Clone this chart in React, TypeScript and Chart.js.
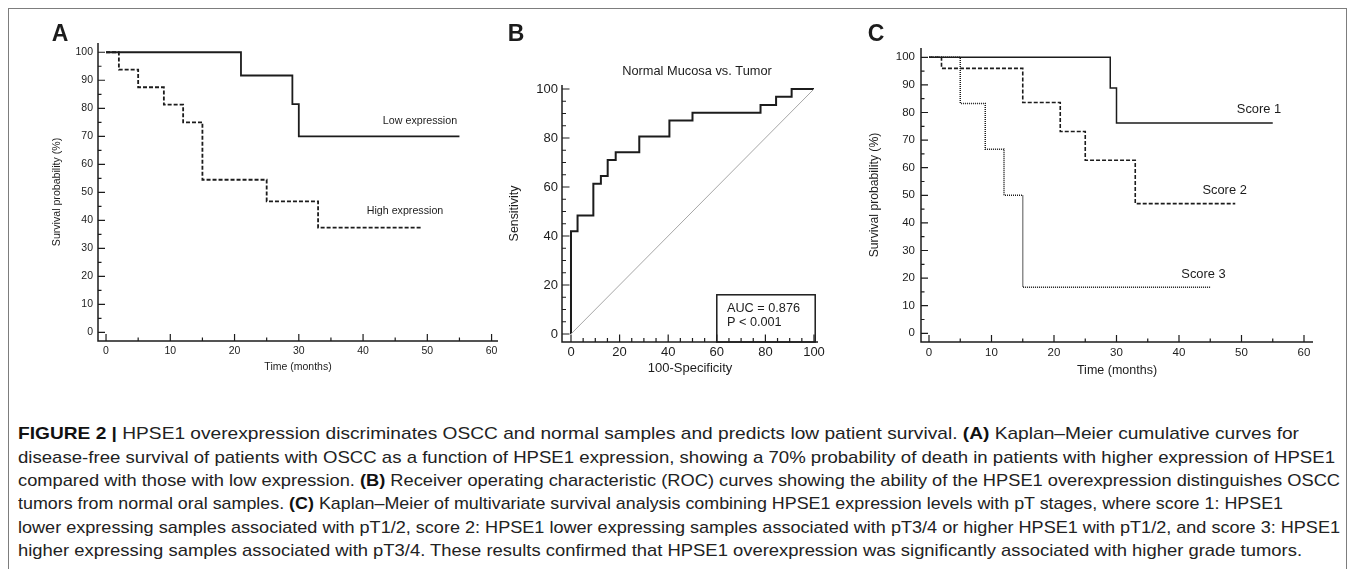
import React, { useEffect, useLayoutEffect, useRef } from "react";
import { Chart, registerables } from "chart.js";

Chart.register(...registerables);

const FONT = "'Liberation Sans', Arial, Helvetica, sans-serif";
const INK = "#1c1c1c";

// ---------------- Data ----------------
const survivalTimeTicks = [0, 10, 20, 30, 40, 50, 60];
const survivalPctTicks = [0, 10, 20, 30, 40, 50, 60, 70, 80, 90, 100];
const rocTicks = [0, 20, 40, 60, 80, 100];

const panelLetters = ["A", "B", "C"];

const survivalXTitle = "Time (months)";
const survivalYTitle = "Survival probability (%)";

const lowExpressionLabel = "Low expression";
const lowExpressionMonths = [0, 21, 29, 30, 55];
const lowExpressionSurvival = [100, 91.7, 81.5, 70, 70];

const highExpressionLabel = "High expression";
const highExpressionMonths = [0, 2, 5, 9, 12, 15, 25, 33, 49];
const highExpressionSurvival = [100, 93.8, 87.5, 81.3, 75, 54.5, 46.8, 37.4, 37.4];

const rocTitle = "Normal Mucosa vs. Tumor";
const rocXTitle = "100-Specificity";
const rocYTitle = "Sensitivity";
const rocSpecificity = [0, 2.7, 9.2, 12.3, 15.1, 18.4, 28.1, 40.5, 50, 78, 84.4, 90.8, 100];
const rocSensitivity = [0, 41.9, 48.4, 61.3, 64.5, 71, 74.2, 80.6, 87.1, 90.3, 93.5, 96.8, 100];
const referenceDiagonal = [0, 100];
const rocStats = ["AUC = 0.876", "P < 0.001"];
const rocStatsBoxX = [60, 100.5];
const rocStatsBoxTop = 16;

const scoreLabels = ["Score 1", "Score 2", "Score 3"];
const score1Months = [0, 29, 30, 55];
const score1Survival = [100, 88.9, 76.2, 76.2];
const score2Months = [0, 2, 15, 21, 25, 33, 49];
const score2Survival = [100, 96, 83.6, 73.1, 62.7, 47, 47];
const score3Months = [0, 5, 9, 12, 15, 45];
const score3Survival = [100, 83.3, 66.7, 50, 16.7, 16.7];

type Seg = [string, boolean];
const captionLines: Seg[][] = [
  [["FIGURE 2 | ", true], ["HPSE1 overexpression discriminates OSCC and normal samples and predicts low patient survival. ", false], ["(A)", true], [" Kaplan\u2013Meier cumulative curves for", false]],
  [["disease-free survival of patients with OSCC as a function of HPSE1 expression, showing a 70% probability of death in patients with higher expression of HPSE1", false]],
  [["compared with those with low expression. ", false], ["(B)", true], [" Receiver operating characteristic (ROC) curves showing the ability of the HPSE1 overexpression distinguishes OSCC", false]],
  [["tumors from normal oral samples. ", false], ["(C)", true], [" Kaplan\u2013Meier of multivariate survival analysis combining HPSE1 expression levels with pT stages, where score 1: HPSE1", false]],
  [["lower expressing samples associated with pT1/2, score 2: HPSE1 lower expressing samples associated with pT3/4 or higher HPSE1 with pT1/2, and score 3: HPSE1", false]],
  [["higher expressing samples associated with pT3/4. These results confirmed that HPSE1 overexpression was significantly associated with higher grade tumors.", false]],
];

// ---------------- Styling / layout helpers ----------------
const captionLeft = 18;
const captionCenters = [433, 457, 480, 503, 527, 550];
const captionRights = [1299, 1335, 1340, 1283, 1340, 1302];

type Txt = { text: string; x: number; y: number; size: number; bold?: boolean; align?: CanvasTextAlign };
type Deco = {
  offX: number;
  offY: number;
  xMajor: number[];
  yMajor: number[];
  minorStep: number;
  majorLen: number;
  minorLen: number;
  texts: Txt[];
  box?: { x0: number; x1: number; top: number };
};

function pts(xs: number[], ys: number[]) {
  return xs.map((x, i) => ({ x, y: ys[i] }));
}

function minorsOf(major: number[], step: number) {
  const out: number[] = [];
  for (let i = 0; i < major.length - 1; i++) {
    for (let v = major[i] + step; v < major[i + 1] - 1e-9; v += step) out.push(v);
  }
  return out;
}

function decoPlugin(d: Deco) {
  return {
    id: "deco",
    afterDraw(chart: any) {
      const { ctx, chartArea: a } = chart;
      const xs = chart.scales.x;
      const ys = chart.scales.y;
      ctx.save();
      ctx.strokeStyle = INK;
      ctx.lineWidth = 1.5;
      ctx.beginPath();
      ctx.moveTo(a.left, a.top);
      ctx.lineTo(a.left, a.bottom);
      ctx.lineTo(a.right, a.bottom);
      ctx.stroke();
      ctx.lineWidth = 1.2;
      ctx.beginPath();
      for (const v of d.yMajor) {
        const p = ys.getPixelForValue(v);
        ctx.moveTo(a.left, p);
        ctx.lineTo(a.left + d.majorLen, p);
      }
      for (const v of minorsOf(d.yMajor, d.minorStep)) {
        const p = ys.getPixelForValue(v);
        ctx.moveTo(a.left, p);
        ctx.lineTo(a.left + d.minorLen, p);
      }
      for (const v of d.xMajor) {
        const p = xs.getPixelForValue(v);
        ctx.moveTo(p, a.bottom);
        ctx.lineTo(p, a.bottom - d.majorLen);
      }
      for (const v of minorsOf(d.xMajor, d.minorStep)) {
        const p = xs.getPixelForValue(v);
        ctx.moveTo(p, a.bottom);
        ctx.lineTo(p, a.bottom - d.minorLen);
      }
      ctx.stroke();
      if (d.box) {
        const x0 = xs.getPixelForValue(d.box.x0);
        const x1 = xs.getPixelForValue(d.box.x1);
        const y0 = ys.getPixelForValue(d.box.top);
        ctx.lineWidth = 1.5;
        ctx.strokeRect(x0, y0, x1 - x0, a.bottom - y0);
      }
      ctx.fillStyle = INK;
      ctx.textBaseline = "middle";
      for (const t of d.texts) {
        ctx.font = `${t.bold ? "bold " : ""}${t.size}px ${FONT}`;
        ctx.textAlign = t.align || "center";
        ctx.fillText(t.text, t.x - d.offX, t.y - d.offY);
      }
      ctx.restore();
    },
  };
}

function axis(o: {
  min: number;
  max: number;
  ticks: number[];
  size: number;
  pad: number;
  extent: number;
  horizontal: boolean;
  title: string;
  titleSize: number;
  titlePad: number;
}) {
  return {
    type: "linear",
    min: o.min,
    max: o.max,
    grid: { display: false, drawTicks: false },
    border: { display: false },
    ticks: {
      autoSkip: false,
      maxRotation: 0,
      minRotation: 0,
      padding: o.pad,
      color: INK,
      font: { family: FONT, size: o.size },
    },
    afterBuildTicks: (s: any) => {
      s.ticks = o.ticks.map((value) => ({ value }));
    },
    afterFit: (s: any) => {
      if (o.horizontal) s.height = o.extent;
      else s.width = o.extent;
    },
    title: {
      display: true,
      text: o.title,
      color: INK,
      font: { family: FONT, size: o.titleSize },
      padding: o.horizontal ? { top: 0, bottom: o.titlePad } : { top: o.titlePad, bottom: 0 },
    },
  };
}

const baseOptions = {
  responsive: false,
  maintainAspectRatio: false,
  animation: false,
  devicePixelRatio: 1,
  events: [],
};

function kmChartA(left: number, top: number) {
  return {
    type: "line",
    data: {
      datasets: [
        {
          label: lowExpressionLabel,
          data: pts(lowExpressionMonths, lowExpressionSurvival),
          stepped: "before",
          borderColor: INK,
          borderWidth: 1.8,
          pointRadius: 0,
          fill: false,
        },
        {
          label: highExpressionLabel,
          data: pts(highExpressionMonths, highExpressionSurvival),
          stepped: "before",
          borderColor: INK,
          borderWidth: 1.8,
          borderDash: [4, 2],
          pointRadius: 0,
          fill: false,
        },
      ],
    },
    options: {
      ...baseOptions,
      layout: { padding: { left: 0, top: 29, right: 16, bottom: 0 } },
      plugins: { legend: { display: false }, tooltip: { enabled: false }, title: { display: false } },
      scales: {
        x: axis({ min: -1.25, max: 61, ticks: survivalTimeTicks, size: 10.5, pad: 3.4, extent: 63, horizontal: true, title: survivalXTitle, titleSize: 10.5, titlePad: 31 }),
        y: axis({ min: -3.05, max: 103.3, ticks: survivalPctTicks, size: 10.5, pad: 5, extent: 84, horizontal: false, title: survivalYTitle, titleSize: 10.6, titlePad: 37 }),
      },
    },
    plugins: [
      decoPlugin({
        offX: left,
        offY: top,
        xMajor: survivalTimeTicks,
        yMajor: survivalPctTicks,
        minorStep: 5,
        majorLen: 7,
        minorLen: 3.5,
        texts: [
          { text: panelLetters[0], x: 60, y: 35, size: 23, bold: true },
          { text: lowExpressionLabel, x: 420, y: 120.7, size: 10.7 },
          { text: highExpressionLabel, x: 405, y: 211, size: 10.7 },
        ],
      }),
    ],
  };
}

function rocChartB(left: number, top: number) {
  return {
    type: "line",
    data: {
      datasets: [
        {
          label: "Reference",
          data: pts(referenceDiagonal, referenceDiagonal),
          borderColor: "#a6a6a6",
          borderWidth: 1,
          pointRadius: 0,
          fill: false,
        },
        {
          label: rocTitle,
          data: pts(rocSpecificity, rocSensitivity),
          stepped: "after",
          borderColor: INK,
          borderWidth: 2,
          pointRadius: 0,
          fill: false,
        },
      ],
    },
    options: {
      ...baseOptions,
      layout: { padding: { left: 0, top: 71, right: 52, bottom: 0 } },
      plugins: { legend: { display: false }, tooltip: { enabled: false }, title: { display: false } },
      scales: {
        x: axis({ min: -3.7, max: 101.65, ticks: rocTicks, size: 13, pad: 3, extent: 62, horizontal: true, title: rocXTitle, titleSize: 13, titlePad: 28 }),
        y: axis({ min: -3.27, max: 101.63, ticks: rocTicks, size: 13, pad: 4, extent: 92, horizontal: false, title: rocYTitle, titleSize: 12.4, titlePad: 37.6 }),
      },
    },
    plugins: [
      decoPlugin({
        offX: left,
        offY: top,
        xMajor: rocTicks,
        yMajor: rocTicks,
        minorStep: 5,
        majorLen: 7.5,
        minorLen: 4,
        box: { x0: rocStatsBoxX[0], x1: rocStatsBoxX[1], top: rocStatsBoxTop },
        texts: [
          { text: panelLetters[1], x: 516, y: 35, size: 23, bold: true },
          { text: rocTitle, x: 697, y: 71, size: 12.8 },
          { text: rocStats[0], x: 727, y: 308, size: 12.7, align: "left" },
          { text: rocStats[1], x: 727, y: 322, size: 12.7, align: "left" },
        ],
      }),
    ],
  };
}

function kmChartC(left: number, top: number) {
  return {
    type: "line",
    data: {
      datasets: [
        {
          label: scoreLabels[0],
          data: pts(score1Months, score1Survival),
          stepped: "before",
          borderColor: INK,
          borderWidth: 1.5,
          pointRadius: 0,
          fill: false,
        },
        {
          label: scoreLabels[1],
          data: pts(score2Months, score2Survival),
          stepped: "before",
          borderColor: INK,
          borderWidth: 1.6,
          borderDash: [4, 2],
          pointRadius: 0,
          fill: false,
        },
        {
          label: scoreLabels[2],
          data: pts(score3Months, score3Survival),
          stepped: "before",
          borderColor: INK,
          borderWidth: 1.5,
          borderDash: [1, 1],
          pointRadius: 0,
          fill: false,
        },
      ],
    },
    options: {
      ...baseOptions,
      layout: { padding: { left: 0, top: 34, right: 27, bottom: 0 } },
      plugins: { legend: { display: false }, tooltip: { enabled: false }, title: { display: false } },
      scales: {
        x: axis({ min: -1.28, max: 61.44, ticks: survivalTimeTicks, size: 11.5, pad: 4.4, extent: 62, horizontal: true, title: survivalXTitle, titleSize: 12.5, titlePad: 25.5 }),
        y: axis({ min: -3.15, max: 103.37, ticks: survivalPctTicks, size: 11.5, pad: 6, extent: 81, horizontal: false, title: survivalYTitle, titleSize: 12.2, titlePad: 27.3 }),
      },
    },
    plugins: [
      decoPlugin({
        offX: left,
        offY: top,
        xMajor: survivalTimeTicks,
        yMajor: survivalPctTicks,
        minorStep: 5,
        majorLen: 7,
        minorLen: 3.5,
        texts: [
          { text: panelLetters[2], x: 876, y: 35, size: 23, bold: true },
          { text: scoreLabels[0], x: 1259, y: 109, size: 12.9 },
          { text: scoreLabels[1], x: 1224.6, y: 190, size: 12.9 },
          { text: scoreLabels[2], x: 1203.5, y: 274, size: 12.9 },
        ],
      }),
    ],
  };
}

function ChartCanvas(props: { left: number; top: number; width: number; height: number; build: (l: number, t: number) => any }) {
  const ref = useRef<HTMLCanvasElement>(null);
  useEffect(() => {
    const chart = new Chart(ref.current as HTMLCanvasElement, props.build(props.left, props.top) as any);
    return () => chart.destroy();
  }, []);
  return (
    <canvas
      ref={ref}
      width={props.width}
      height={props.height}
      style={{ position: "absolute", left: props.left, top: props.top, width: props.width, height: props.height }}
    />
  );
}

function Caption() {
  const refs = useRef<(HTMLSpanElement | null)[]>([]);
  useLayoutEffect(() => {
    refs.current.forEach((el, i) => {
      if (!el) return;
      el.style.transform = "none";
      const w = el.getBoundingClientRect().width;
      const target = captionRights[i] - captionLeft;
      if (w > 0) el.style.transform = `scaleX(${target / w})`;
    });
  }, []);
  return (
    <>
      {captionLines.map((line, i) => (
        <span
          key={i}
          ref={(el) => {
            refs.current[i] = el;
          }}
          style={{
            position: "absolute",
            left: captionLeft,
            top: captionCenters[i] - 11.5,
            height: 23,
            lineHeight: "23px",
            fontSize: 17,
            fontFamily: FONT,
            color: "#222",
            whiteSpace: "nowrap",
            display: "inline-block",
            transformOrigin: "0 50%",
          }}
        >
          {line.map(([t, b], j) => (
            <span key={j} style={{ fontWeight: b ? "bold" : "normal", color: b ? "#111" : "#222" }}>
              {t}
            </span>
          ))}
        </span>
      ))}
    </>
  );
}

export default function App() {
  return (
    <div style={{ position: "absolute", left: 0, top: 0, width: 1355, height: 569, overflow: "hidden", background: "#fff" }}>
      <div
        style={{
          position: "absolute",
          left: 8,
          top: 8,
          width: 1337,
          height: 600,
          borderTop: "1.5px solid #7d7d7d",
          borderLeft: "1.5px solid #7d7d7d",
          borderRight: "1.5px solid #7d7d7d",
        }}
      />
      <ChartCanvas left={14} top={14} width={500} height={390} build={kmChartA} />
      <ChartCanvas left={470} top={14} width={400} height={390} build={rocChartB} />
      <ChartCanvas left={840} top={14} width={500} height={390} build={kmChartC} />
      <Caption />
    </div>
  );
}
